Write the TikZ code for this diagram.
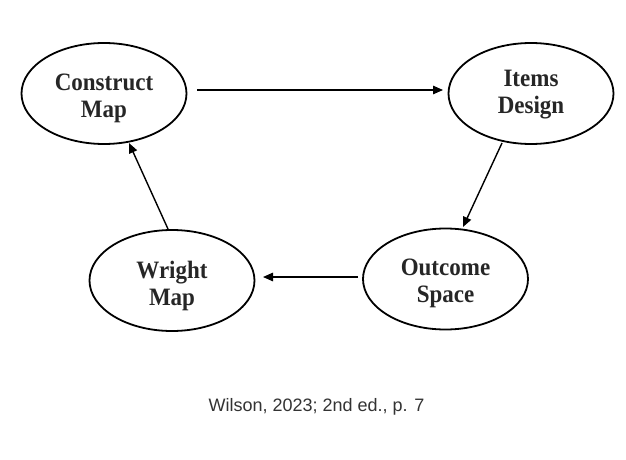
\documentclass[tikz,border=0pt]{standalone}
\usepackage{fontspec}
\setmainfont{Liberation Serif}
\newfontfamily\boxfont[FakeStretch=0.92]{Liberation Serif Bold}
\newfontfamily\capfont{Liberation Sans}
\usetikzlibrary{shapes.geometric,arrows.meta}
\definecolor{captiongray}{RGB}{51,51,51}
\newcommand{\lowertext}[1]{\rule{0pt}{#1}}
\begin{document}
\begin{tikzpicture}[x=1pt,y=-1pt,
  stage/.style={ellipse,draw=black,line width=1.8pt,minimum width=165pt,minimum height=101pt,inner sep=0pt,align=center,font=\boxfont\fontsize{25}{27}\selectfont,text=black!85},
  flow/.style={line width=1.4pt,-{Triangle[length=10pt,width=8.5pt]}}]
\useasboundingbox[fill=white] (0,0) rectangle (626,460);
\node[stage] (cm) at (104,93.5) {\lowertext{27pt}Construct\\Map};
\node[stage] (id) at (531,93.5) {\lowertext{19pt}Items\\Design};
\node[stage] (wm) at (172,280.5) {\lowertext{28pt}Wright\\Map};
\node[stage] (os) at (445.5,279) {\lowertext{25pt}Outcome\\Space};
\draw[flow] ([shift={(93,-3.5)}]cm.center) -- ([shift={(-88,-3.5)}]id.center);
\draw[flow] ([shift={(-29,49.5)}]id.center) -- ([shift={(17.5,-52)}]os.center);
\draw[flow] ([shift={(-87.5,-2)}]os.center) -- ([shift={(91,-3.5)}]wm.center);
\draw[flow] ([shift={(-4,-51.5)}]wm.center) -- ([shift={(25,49.5)}]cm.center);
\node[font=\capfont\fontsize{18}{20}\selectfont,text=captiongray] (cap) at (316.5,407) {Wilson, 2023; 2nd ed., p. 7};
\end{tikzpicture}
\end{document}
